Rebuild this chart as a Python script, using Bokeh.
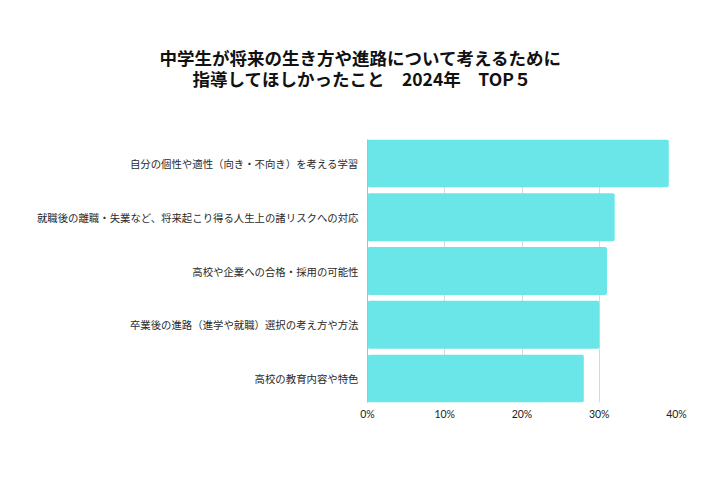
from bokeh.plotting import figure
from bokeh.models import Title, PrintfTickFormatter, FixedTicker, FactorRange, Range1d
from bokeh.embed import file_html
from bokeh.resources import INLINE

categories = [
    "自分の個性や適性（向き・不向き）を考える学習",
    "就職後の離職・失業など、将来起こり得る人生上の諸リスクへの対応",
    "高校や企業への合格・採用の可能性",
    "卒業後の進路（進学や就職）選択の考え方や方法",
    "高校の教育内容や特色",
]
values = [39, 32, 31, 30, 28]
x_ticks = [0, 10, 20, 30, 40]
title_lines = ["中学生が将来の生き方や進路について考えるために", "指導してほしかったこと　2024年　TOP５"]

JP = "Noto Sans CJK JP"

p = figure(width=704, height=464, output_backend="svg", toolbar_location=None,
           y_range=FactorRange(factors=list(reversed(categories)), range_padding=-0.022),
           x_range=Range1d(0, 40),
           min_border_left=367, min_border_right=28, min_border_top=139, min_border_bottom=62)
p.outline_line_color = None
p.background_fill_color = "white"
p.border_fill_color = "white"

p.hbar(y=categories, right=values, left=0, height=0.89, fill_color="#6ae6e8",
       line_color=None, border_radius=2)

p.xaxis.ticker = FixedTicker(ticks=x_ticks)
p.xaxis.formatter = PrintfTickFormatter(format="%d%%")
p.xaxis.axis_line_color = None
p.xaxis.major_tick_line_color = None
p.xaxis.minor_tick_line_color = None
p.xaxis.major_tick_out = 0
p.xaxis.major_tick_in = 0
p.xaxis.major_label_text_font = "Lato"
p.xaxis.major_label_text_font_size = "10.5px"
p.xaxis.major_label_text_color = "#222222"
p.xaxis.major_label_standoff = 5

p.yaxis.axis_line_color = "#bbbbbb"
p.yaxis.axis_line_width = 1
p.yaxis.major_tick_line_color = None
p.yaxis.minor_tick_line_color = None
p.yaxis.major_tick_out = 0
p.yaxis.major_tick_in = 0
p.yaxis.major_label_text_font = JP
p.yaxis.major_label_text_font_size = "10.4px"
p.yaxis.major_label_text_color = "#2a2a2a"
p.yaxis.major_label_standoff = 9

p.ygrid.grid_line_color = None
p.xgrid.grid_line_color = "#d9d9d9"
p.xgrid.grid_line_width = 1

# spacer between frame and titles
p.add_layout(Title(text=" ", text_font_size="1px", standoff=46), "above")
# titles: inner line added first, outer line last (left-aligned with offsets to center at x~360)
p.add_layout(Title(text=title_lines[1], align="left", offset=-175, standoff=0,
                   text_font=JP, text_font_size="17.5px", text_font_style="bold",
                   text_color="#111111"), "above")
p.add_layout(Title(text=title_lines[0], align="left", offset=-208, standoff=-12,
                   text_font=JP, text_font_size="17.5px", text_font_style="bold",
                   text_color="#111111"), "above")

open("out.html", "w").write(file_html(p, INLINE))
